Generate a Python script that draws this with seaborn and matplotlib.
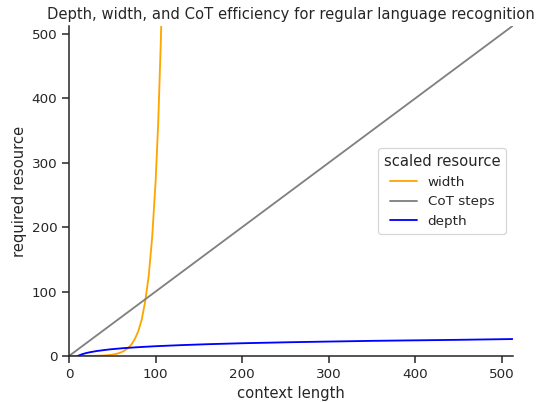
import numpy as np
import pandas as pd
import matplotlib
matplotlib.use("Agg")
import matplotlib.pyplot as plt
import seaborn as sns

# ---- data ----
cot_x = [0, 512]
cot_y = [0, 512]

depth_x = [10, 12, 16, 20, 24, 32, 40, 48, 64, 80, 100, 128, 160, 200, 256, 300, 350, 400, 450, 512]
depth_y = [0.0, 1.2, 3.1, 4.6, 5.8, 7.7, 9.1, 10.4, 12.3, 13.7, 15.2, 16.8, 18.3, 19.8, 21.4, 22.4, 23.5, 24.3, 25.1, 26.3]

width_x = [0, 10, 20, 30, 40, 45, 50, 55, 60, 64, 68, 72, 76, 80, 84, 88, 92, 96, 100, 103, 106, 108, 110]
width_y = [0.02, 0.04, 0.11, 0.29, 0.77, 1.3, 2.1, 3.4, 5.6, 8.2, 12.4, 17.6, 26.3, 38.5, 56.7, 85, 124, 184, 271, 362, 488, 594, 722]

x_ticks = [0, 100, 200, 300, 400, 500]
y_ticks = [0, 100, 200, 300, 400, 500]

title = "Depth, width, and CoT efficiency for regular language recognition"
xlabel = "context length"
ylabel = "required resource"
hue_name = "scaled resource"
series_order = ["width", "CoT steps", "depth"]
palette = {"width": "orange", "CoT steps": "gray", "depth": "blue"}

df = pd.concat([
    pd.DataFrame({"x": width_x, "y": width_y, hue_name: "width"}),
    pd.DataFrame({"x": cot_x, "y": cot_y, hue_name: "CoT steps"}),
    pd.DataFrame({"x": depth_x, "y": depth_y, hue_name: "depth"}),
], ignore_index=True)

sns.set_theme(style="ticks", context="notebook")
DPI = 88.3
fig = plt.figure(figsize=(537 / DPI, 402 / DPI), dpi=DPI)
ax = fig.add_axes([69 / 537, 1 - 356 / 402, (512.5 - 69) / 537, (356 - 26) / 402])

sns.lineplot(data=df, x="x", y="y", hue=hue_name, hue_order=series_order,
             palette=palette, ax=ax, estimator=None, sort=True)

ax.set_xlim(0, 512)
ax.set_ylim(0, 512)
ax.set_xticks(x_ticks)
ax.set_yticks(y_ticks)
ax.set_xlabel(xlabel)
ax.set_ylabel(ylabel)
ax.set_title(title)
sns.despine(ax=ax)
sns.move_legend(ax, "center right", title=hue_name)

fig.savefig("out.png", dpi=DPI)
